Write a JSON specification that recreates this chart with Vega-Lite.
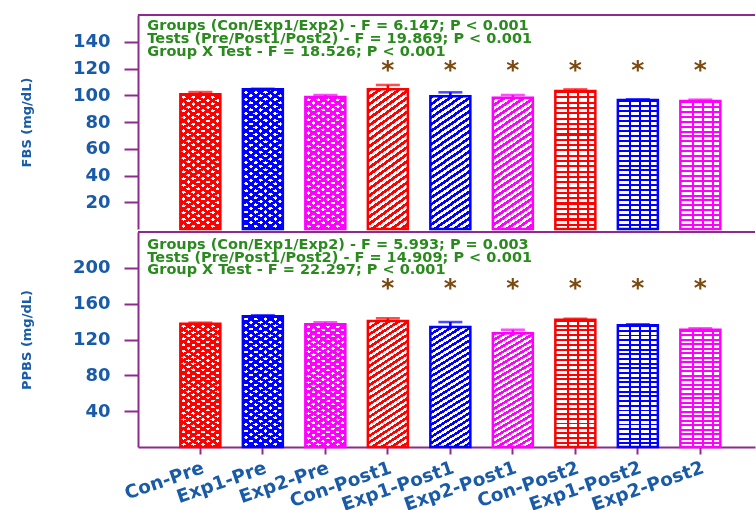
{
"$schema": "https://vega.github.io/schema/vega-lite/v6.json",
"background": "white",
"padding": {"left": 19, "top": 14, "right": 0, "bottom": 0},
"config": {
"view": {"stroke": null},
"font": "DejaVu Sans",
"axis": {"grid":false,"domainColor":"#8E2A8E","domainWidth":2,"tickColor":"#8E2A8E","tickWidth":2,"labelFont":"DejaVu Sans","labelFontWeight":"bold","labelColor":"#1A5BA8","labelOverlap":false,"titleFont":"DejaVu Sans","titleFontWeight":"bold","titleColor":"#1A5BA8"},
"axisY": {"tickSize":14,"labelFontSize":18,"labelPadding":14,"titleFontSize":13,"titleX":-112,"titleBaseline":"middle"},
"axisX": {"tickSize":7,"labelAngle":-19,"labelAlign":"right","labelBaseline":"top","labelFontSize":18.5,"labelPadding":4,"labelBound":false}
},
"spacing": 0,
"datasets": {
"fbs": [
{"label":"Con-Pre","group":"Con","test":"Pre","mean":100.7,"sem":1.7,"sig":false},
{"label":"Exp1-Pre","group":"Exp1","test":"Pre","mean":104.4,"sem":0.5,"sig":false},
{"label":"Exp2-Pre","group":"Exp2","test":"Pre","mean":98.7,"sem":1.5,"sig":false},
{"label":"Con-Post1","group":"Con","test":"Post1","mean":104.4,"sem":3.3,"sig":true},
{"label":"Exp1-Post1","group":"Exp1","test":"Post1","mean":99.2,"sem":3.0,"sig":true},
{"label":"Exp2-Post1","group":"Exp2","test":"Post1","mean":98.2,"sem":2.0,"sig":true},
{"label":"Con-Post2","group":"Con","test":"Post2","mean":103.2,"sem":1.2,"sig":true},
{"label":"Exp1-Post2","group":"Exp1","test":"Post2","mean":96.4,"sem":0.6,"sig":true},
{"label":"Exp2-Post2","group":"Exp2","test":"Post2","mean":95.7,"sem":1.0,"sig":true}
],
"ppbs": [
{"label":"Con-Pre","group":"Con","test":"Pre","mean":137.6,"sem":1.2,"sig":false},
{"label":"Exp1-Pre","group":"Exp1","test":"Pre","mean":145.9,"sem":1.1,"sig":false},
{"label":"Exp2-Pre","group":"Exp2","test":"Pre","mean":137.0,"sem":2.2,"sig":false},
{"label":"Con-Post1","group":"Con","test":"Post1","mean":140.7,"sem":3.0,"sig":true},
{"label":"Exp1-Post1","group":"Exp1","test":"Post1","mean":134.0,"sem":5.5,"sig":true},
{"label":"Exp2-Post1","group":"Exp2","test":"Post1","mean":126.9,"sem":4.0,"sig":true},
{"label":"Con-Post2","group":"Con","test":"Post2","mean":142.1,"sem":1.1,"sig":true},
{"label":"Exp1-Post2","group":"Exp1","test":"Post2","mean":135.9,"sem":1.1,"sig":true},
{"label":"Exp2-Post2","group":"Exp2","test":"Post2","mean":130.9,"sem":1.6,"sig":true}
]
},
"vconcat": [
{
"width": 617, "height": 214,
"layer": [
{
"data": {"name": "fbs"},
"encoding": {
"x": {"field":"label","type":"nominal","scale":{"domain":["Con-Pre","Exp1-Pre","Exp2-Pre","Con-Post1","Exp1-Post1","Exp2-Post1","Con-Post2","Exp1-Post2","Exp2-Post2"],"paddingInner":0.36,"paddingOuter":0.616,"align":0.55},"axis":null},
"y": {"field":"mean","type":"quantitative","scale":{"domain":[0,160],"nice":false},"axis":{"orient":"left","values":[20,40,60,80,100,120,140],"title":"FBS (mg/dL)"}}
},
"layer": [
{"mark":{"type":"errorbar","ticks":true,"size":24,"thickness":2.5},"encoding":{"yError":{"field":"sem"},"color":{"field":"group","type":"nominal","scale":{"domain":["Con","Exp1","Exp2"],"range":["#FF0000","#0000FF","#FF00FF"]},"legend":null}}},
{"transform":[{"filter":"datum.test !== 'Post2'"}],"mark":{"type":"bar","fill":{"gradient":"linear","x1":0,"y1":0,"x2":0.24,"y2":1.16,"stops":[{"offset":0,"color":"#000"},{"offset":0.0208,"color":"#000"},{"offset":0.0208,"color":"#fff"},{"offset":0.0417,"color":"#fff"},{"offset":0.0417,"color":"#000"},{"offset":0.0625,"color":"#000"},{"offset":0.0625,"color":"#fff"},{"offset":0.0833,"color":"#fff"},{"offset":0.0833,"color":"#000"},{"offset":0.1042,"color":"#000"},{"offset":0.1042,"color":"#fff"},{"offset":0.125,"color":"#fff"},{"offset":0.125,"color":"#000"},{"offset":0.1458,"color":"#000"},{"offset":0.1458,"color":"#fff"},{"offset":0.1667,"color":"#fff"},{"offset":0.1667,"color":"#000"},{"offset":0.1875,"color":"#000"},{"offset":0.1875,"color":"#fff"},{"offset":0.2083,"color":"#fff"},{"offset":0.2083,"color":"#000"},{"offset":0.2292,"color":"#000"},{"offset":0.2292,"color":"#fff"},{"offset":0.25,"color":"#fff"},{"offset":0.25,"color":"#000"},{"offset":0.2708,"color":"#000"},{"offset":0.2708,"color":"#fff"},{"offset":0.2917,"color":"#fff"},{"offset":0.2917,"color":"#000"},{"offset":0.3125,"color":"#000"},{"offset":0.3125,"color":"#fff"},{"offset":0.3333,"color":"#fff"},{"offset":0.3333,"color":"#000"},{"offset":0.3542,"color":"#000"},{"offset":0.3542,"color":"#fff"},{"offset":0.375,"color":"#fff"},{"offset":0.375,"color":"#000"},{"offset":0.3958,"color":"#000"},{"offset":0.3958,"color":"#fff"},{"offset":0.4167,"color":"#fff"},{"offset":0.4167,"color":"#000"},{"offset":0.4375,"color":"#000"},{"offset":0.4375,"color":"#fff"},{"offset":0.4583,"color":"#fff"},{"offset":0.4583,"color":"#000"},{"offset":0.4792,"color":"#000"},{"offset":0.4792,"color":"#fff"},{"offset":0.5,"color":"#fff"},{"offset":0.5,"color":"#000"},{"offset":0.5208,"color":"#000"},{"offset":0.5208,"color":"#fff"},{"offset":0.5417,"color":"#fff"},{"offset":0.5417,"color":"#000"},{"offset":0.5625,"color":"#000"},{"offset":0.5625,"color":"#fff"},{"offset":0.5833,"color":"#fff"},{"offset":0.5833,"color":"#000"},{"offset":0.6042,"color":"#000"},{"offset":0.6042,"color":"#fff"},{"offset":0.625,"color":"#fff"},{"offset":0.625,"color":"#000"},{"offset":0.6458,"color":"#000"},{"offset":0.6458,"color":"#fff"},{"offset":0.6667,"color":"#fff"},{"offset":0.6667,"color":"#000"},{"offset":0.6875,"color":"#000"},{"offset":0.6875,"color":"#fff"},{"offset":0.7083,"color":"#fff"},{"offset":0.7083,"color":"#000"},{"offset":0.7292,"color":"#000"},{"offset":0.7292,"color":"#fff"},{"offset":0.75,"color":"#fff"},{"offset":0.75,"color":"#000"},{"offset":0.7708,"color":"#000"},{"offset":0.7708,"color":"#fff"},{"offset":0.7917,"color":"#fff"},{"offset":0.7917,"color":"#000"},{"offset":0.8125,"color":"#000"},{"offset":0.8125,"color":"#fff"},{"offset":0.8333,"color":"#fff"},{"offset":0.8333,"color":"#000"},{"offset":0.8542,"color":"#000"},{"offset":0.8542,"color":"#fff"},{"offset":0.875,"color":"#fff"},{"offset":0.875,"color":"#000"},{"offset":0.8958,"color":"#000"},{"offset":0.8958,"color":"#fff"},{"offset":0.9167,"color":"#fff"},{"offset":0.9167,"color":"#000"},{"offset":0.9375,"color":"#000"},{"offset":0.9375,"color":"#fff"},{"offset":0.9583,"color":"#fff"},{"offset":0.9583,"color":"#000"},{"offset":0.9792,"color":"#000"},{"offset":0.9792,"color":"#fff"},{"offset":1,"color":"#fff"}]}},"encoding":{}},
{"transform":[{"filter":"datum.test === 'Pre'"}],"mark":{"type":"bar","blend":"multiply","fill":{"gradient":"linear","x1":0,"y1":1,"x2":0.24,"y2":-0.16,"stops":[{"offset":0,"color":"#000"},{"offset":0.0208,"color":"#000"},{"offset":0.0208,"color":"#fff"},{"offset":0.0417,"color":"#fff"},{"offset":0.0417,"color":"#000"},{"offset":0.0625,"color":"#000"},{"offset":0.0625,"color":"#fff"},{"offset":0.0833,"color":"#fff"},{"offset":0.0833,"color":"#000"},{"offset":0.1042,"color":"#000"},{"offset":0.1042,"color":"#fff"},{"offset":0.125,"color":"#fff"},{"offset":0.125,"color":"#000"},{"offset":0.1458,"color":"#000"},{"offset":0.1458,"color":"#fff"},{"offset":0.1667,"color":"#fff"},{"offset":0.1667,"color":"#000"},{"offset":0.1875,"color":"#000"},{"offset":0.1875,"color":"#fff"},{"offset":0.2083,"color":"#fff"},{"offset":0.2083,"color":"#000"},{"offset":0.2292,"color":"#000"},{"offset":0.2292,"color":"#fff"},{"offset":0.25,"color":"#fff"},{"offset":0.25,"color":"#000"},{"offset":0.2708,"color":"#000"},{"offset":0.2708,"color":"#fff"},{"offset":0.2917,"color":"#fff"},{"offset":0.2917,"color":"#000"},{"offset":0.3125,"color":"#000"},{"offset":0.3125,"color":"#fff"},{"offset":0.3333,"color":"#fff"},{"offset":0.3333,"color":"#000"},{"offset":0.3542,"color":"#000"},{"offset":0.3542,"color":"#fff"},{"offset":0.375,"color":"#fff"},{"offset":0.375,"color":"#000"},{"offset":0.3958,"color":"#000"},{"offset":0.3958,"color":"#fff"},{"offset":0.4167,"color":"#fff"},{"offset":0.4167,"color":"#000"},{"offset":0.4375,"color":"#000"},{"offset":0.4375,"color":"#fff"},{"offset":0.4583,"color":"#fff"},{"offset":0.4583,"color":"#000"},{"offset":0.4792,"color":"#000"},{"offset":0.4792,"color":"#fff"},{"offset":0.5,"color":"#fff"},{"offset":0.5,"color":"#000"},{"offset":0.5208,"color":"#000"},{"offset":0.5208,"color":"#fff"},{"offset":0.5417,"color":"#fff"},{"offset":0.5417,"color":"#000"},{"offset":0.5625,"color":"#000"},{"offset":0.5625,"color":"#fff"},{"offset":0.5833,"color":"#fff"},{"offset":0.5833,"color":"#000"},{"offset":0.6042,"color":"#000"},{"offset":0.6042,"color":"#fff"},{"offset":0.625,"color":"#fff"},{"offset":0.625,"color":"#000"},{"offset":0.6458,"color":"#000"},{"offset":0.6458,"color":"#fff"},{"offset":0.6667,"color":"#fff"},{"offset":0.6667,"color":"#000"},{"offset":0.6875,"color":"#000"},{"offset":0.6875,"color":"#fff"},{"offset":0.7083,"color":"#fff"},{"offset":0.7083,"color":"#000"},{"offset":0.7292,"color":"#000"},{"offset":0.7292,"color":"#fff"},{"offset":0.75,"color":"#fff"},{"offset":0.75,"color":"#000"},{"offset":0.7708,"color":"#000"},{"offset":0.7708,"color":"#fff"},{"offset":0.7917,"color":"#fff"},{"offset":0.7917,"color":"#000"},{"offset":0.8125,"color":"#000"},{"offset":0.8125,"color":"#fff"},{"offset":0.8333,"color":"#fff"},{"offset":0.8333,"color":"#000"},{"offset":0.8542,"color":"#000"},{"offset":0.8542,"color":"#fff"},{"offset":0.875,"color":"#fff"},{"offset":0.875,"color":"#000"},{"offset":0.8958,"color":"#000"},{"offset":0.8958,"color":"#fff"},{"offset":0.9167,"color":"#fff"},{"offset":0.9167,"color":"#000"},{"offset":0.9375,"color":"#000"},{"offset":0.9375,"color":"#fff"},{"offset":0.9583,"color":"#fff"},{"offset":0.9583,"color":"#000"},{"offset":0.9792,"color":"#000"},{"offset":0.9792,"color":"#fff"},{"offset":1,"color":"#fff"}]}},"encoding":{}},
{"transform":[{"filter":"datum.test === 'Post2'"}],"mark":{"type":"bar","fill":{"gradient":"linear","x1":0,"y1":0,"x2":1,"y2":0,"stops":[{"offset":0,"color":"#fff"},{"offset":0.28,"color":"#fff"},{"offset":0.28,"color":"#000"},{"offset":0.34,"color":"#000"},{"offset":0.34,"color":"#fff"},{"offset":0.53,"color":"#fff"},{"offset":0.53,"color":"#000"},{"offset":0.59,"color":"#000"},{"offset":0.59,"color":"#fff"},{"offset":0.78,"color":"#fff"},{"offset":0.78,"color":"#000"},{"offset":0.84,"color":"#000"},{"offset":0.84,"color":"#fff"},{"offset":1,"color":"#fff"}]}},"encoding":{}},
{"transform":[{"filter":"datum.test === 'Post2'"}],"mark":{"type":"bar","blend":"multiply","fill":{"gradient":"linear","x1":0,"y1":0,"x2":0,"y2":1,"stops":[{"offset":0,"color":"#000"},{"offset":0.0154,"color":"#000"},{"offset":0.0154,"color":"#fff"},{"offset":0.0385,"color":"#fff"},{"offset":0.0385,"color":"#000"},{"offset":0.0538,"color":"#000"},{"offset":0.0538,"color":"#fff"},{"offset":0.0769,"color":"#fff"},{"offset":0.0769,"color":"#000"},{"offset":0.0923,"color":"#000"},{"offset":0.0923,"color":"#fff"},{"offset":0.1154,"color":"#fff"},{"offset":0.1154,"color":"#000"},{"offset":0.1308,"color":"#000"},{"offset":0.1308,"color":"#fff"},{"offset":0.1538,"color":"#fff"},{"offset":0.1538,"color":"#000"},{"offset":0.1692,"color":"#000"},{"offset":0.1692,"color":"#fff"},{"offset":0.1923,"color":"#fff"},{"offset":0.1923,"color":"#000"},{"offset":0.2077,"color":"#000"},{"offset":0.2077,"color":"#fff"},{"offset":0.2308,"color":"#fff"},{"offset":0.2308,"color":"#000"},{"offset":0.2462,"color":"#000"},{"offset":0.2462,"color":"#fff"},{"offset":0.2692,"color":"#fff"},{"offset":0.2692,"color":"#000"},{"offset":0.2846,"color":"#000"},{"offset":0.2846,"color":"#fff"},{"offset":0.3077,"color":"#fff"},{"offset":0.3077,"color":"#000"},{"offset":0.3231,"color":"#000"},{"offset":0.3231,"color":"#fff"},{"offset":0.3462,"color":"#fff"},{"offset":0.3462,"color":"#000"},{"offset":0.3615,"color":"#000"},{"offset":0.3615,"color":"#fff"},{"offset":0.3846,"color":"#fff"},{"offset":0.3846,"color":"#000"},{"offset":0.4,"color":"#000"},{"offset":0.4,"color":"#fff"},{"offset":0.4231,"color":"#fff"},{"offset":0.4231,"color":"#000"},{"offset":0.4385,"color":"#000"},{"offset":0.4385,"color":"#fff"},{"offset":0.4615,"color":"#fff"},{"offset":0.4615,"color":"#000"},{"offset":0.4769,"color":"#000"},{"offset":0.4769,"color":"#fff"},{"offset":0.5,"color":"#fff"},{"offset":0.5,"color":"#000"},{"offset":0.5154,"color":"#000"},{"offset":0.5154,"color":"#fff"},{"offset":0.5385,"color":"#fff"},{"offset":0.5385,"color":"#000"},{"offset":0.5538,"color":"#000"},{"offset":0.5538,"color":"#fff"},{"offset":0.5769,"color":"#fff"},{"offset":0.5769,"color":"#000"},{"offset":0.5923,"color":"#000"},{"offset":0.5923,"color":"#fff"},{"offset":0.6154,"color":"#fff"},{"offset":0.6154,"color":"#000"},{"offset":0.6308,"color":"#000"},{"offset":0.6308,"color":"#fff"},{"offset":0.6538,"color":"#fff"},{"offset":0.6538,"color":"#000"},{"offset":0.6692,"color":"#000"},{"offset":0.6692,"color":"#fff"},{"offset":0.6923,"color":"#fff"},{"offset":0.6923,"color":"#000"},{"offset":0.7077,"color":"#000"},{"offset":0.7077,"color":"#fff"},{"offset":0.7308,"color":"#fff"},{"offset":0.7308,"color":"#000"},{"offset":0.7462,"color":"#000"},{"offset":0.7462,"color":"#fff"},{"offset":0.7692,"color":"#fff"},{"offset":0.7692,"color":"#000"},{"offset":0.7846,"color":"#000"},{"offset":0.7846,"color":"#fff"},{"offset":0.8077,"color":"#fff"},{"offset":0.8077,"color":"#000"},{"offset":0.8231,"color":"#000"},{"offset":0.8231,"color":"#fff"},{"offset":0.8462,"color":"#fff"},{"offset":0.8462,"color":"#000"},{"offset":0.8615,"color":"#000"},{"offset":0.8615,"color":"#fff"},{"offset":0.8846,"color":"#fff"},{"offset":0.8846,"color":"#000"},{"offset":0.9,"color":"#000"},{"offset":0.9,"color":"#fff"},{"offset":0.9231,"color":"#fff"},{"offset":0.9231,"color":"#000"},{"offset":0.9385,"color":"#000"},{"offset":0.9385,"color":"#fff"},{"offset":0.9615,"color":"#fff"},{"offset":0.9615,"color":"#000"},{"offset":0.9769,"color":"#000"},{"offset":0.9769,"color":"#fff"},{"offset":1,"color":"#fff"}]}},"encoding":{}},
{"mark":{"type":"bar","blend":"screen"},"encoding":{"fill":{"field":"group","type":"nominal","scale":{"domain":["Con","Exp1","Exp2"],"range":["#FF0000","#0000FF","#FF00FF"]},"legend":null}}},
{"mark":{"type":"bar","filled":false,"strokeWidth":2.5},"encoding":{"color":{"field":"group","type":"nominal","scale":{"domain":["Con","Exp1","Exp2"],"range":["#FF0000","#0000FF","#FF00FF"]},"legend":null}}},
{"transform":[{"filter":"datum.sig"}],"mark":{"type":"text","text":"*","font":"DejaVu Sans","fontWeight":"bold","fontSize":25,"color":"#7A4A10","baseline":"alphabetic","dy":14},"encoding":{"y":{"datum":123.4,"axis":{"orient":"left","values":[20,40,60,80,100,120,140],"title":"FBS (mg/dL)"}}}}
]
},
{"data":{"values":[{}]},"mark":{"type":"text","align":"left","baseline":"alphabetic","font":"DejaVu Sans","fontWeight":"bold","fontSize":14.5,"lineHeight":12.6,"color":"#2A8A1E","dx":-53},"encoding":{"x":{"datum":"Con-Pre","axis":null},"y":{"datum":148.5,"axis":{"orient":"left","values":[20,40,60,80,100,120,140],"title":"FBS (mg/dL)"}},"text":{"value":["Groups (Con/Exp1/Exp2) - F = 6.147; P < 0.001","Tests (Pre/Post1/Post2) - F = 19.869; P < 0.001","Group X Test - F = 18.526; P < 0.001"]}}},
{"data":{"values":[{}]},"mark":{"type":"rule","color":"#8E2A8E","strokeWidth":2},"encoding":{"y":{"datum":160,"axis":{"orient":"left","values":[20,40,60,80,100,120,140],"title":"FBS (mg/dL)"}}}}
]
},
{
"width": 617, "height": 215,
"layer": [
{
"data": {"name": "ppbs"},
"encoding": {
"x": {"field":"label","type":"nominal","scale":{"domain":["Con-Pre","Exp1-Pre","Exp2-Pre","Con-Post1","Exp1-Post1","Exp2-Post1","Con-Post2","Exp1-Post2","Exp2-Post2"],"paddingInner":0.36,"paddingOuter":0.616,"align":0.55},"axis":{"orient":"bottom","title":null}},
"y": {"field":"mean","type":"quantitative","scale":{"domain":[0,240],"nice":false},"axis":{"orient":"left","values":[40,80,120,160,200],"title":"PPBS (mg/dL)"}}
},
"layer": [
{"mark":{"type":"errorbar","ticks":true,"size":24,"thickness":2.5},"encoding":{"yError":{"field":"sem"},"color":{"field":"group","type":"nominal","scale":{"domain":["Con","Exp1","Exp2"],"range":["#FF0000","#0000FF","#FF00FF"]},"legend":null}}},
{"transform":[{"filter":"datum.test !== 'Post2'"}],"mark":{"type":"bar","fill":{"gradient":"linear","x1":0,"y1":0,"x2":0.24,"y2":1.16,"stops":[{"offset":0,"color":"#000"},{"offset":0.0208,"color":"#000"},{"offset":0.0208,"color":"#fff"},{"offset":0.0417,"color":"#fff"},{"offset":0.0417,"color":"#000"},{"offset":0.0625,"color":"#000"},{"offset":0.0625,"color":"#fff"},{"offset":0.0833,"color":"#fff"},{"offset":0.0833,"color":"#000"},{"offset":0.1042,"color":"#000"},{"offset":0.1042,"color":"#fff"},{"offset":0.125,"color":"#fff"},{"offset":0.125,"color":"#000"},{"offset":0.1458,"color":"#000"},{"offset":0.1458,"color":"#fff"},{"offset":0.1667,"color":"#fff"},{"offset":0.1667,"color":"#000"},{"offset":0.1875,"color":"#000"},{"offset":0.1875,"color":"#fff"},{"offset":0.2083,"color":"#fff"},{"offset":0.2083,"color":"#000"},{"offset":0.2292,"color":"#000"},{"offset":0.2292,"color":"#fff"},{"offset":0.25,"color":"#fff"},{"offset":0.25,"color":"#000"},{"offset":0.2708,"color":"#000"},{"offset":0.2708,"color":"#fff"},{"offset":0.2917,"color":"#fff"},{"offset":0.2917,"color":"#000"},{"offset":0.3125,"color":"#000"},{"offset":0.3125,"color":"#fff"},{"offset":0.3333,"color":"#fff"},{"offset":0.3333,"color":"#000"},{"offset":0.3542,"color":"#000"},{"offset":0.3542,"color":"#fff"},{"offset":0.375,"color":"#fff"},{"offset":0.375,"color":"#000"},{"offset":0.3958,"color":"#000"},{"offset":0.3958,"color":"#fff"},{"offset":0.4167,"color":"#fff"},{"offset":0.4167,"color":"#000"},{"offset":0.4375,"color":"#000"},{"offset":0.4375,"color":"#fff"},{"offset":0.4583,"color":"#fff"},{"offset":0.4583,"color":"#000"},{"offset":0.4792,"color":"#000"},{"offset":0.4792,"color":"#fff"},{"offset":0.5,"color":"#fff"},{"offset":0.5,"color":"#000"},{"offset":0.5208,"color":"#000"},{"offset":0.5208,"color":"#fff"},{"offset":0.5417,"color":"#fff"},{"offset":0.5417,"color":"#000"},{"offset":0.5625,"color":"#000"},{"offset":0.5625,"color":"#fff"},{"offset":0.5833,"color":"#fff"},{"offset":0.5833,"color":"#000"},{"offset":0.6042,"color":"#000"},{"offset":0.6042,"color":"#fff"},{"offset":0.625,"color":"#fff"},{"offset":0.625,"color":"#000"},{"offset":0.6458,"color":"#000"},{"offset":0.6458,"color":"#fff"},{"offset":0.6667,"color":"#fff"},{"offset":0.6667,"color":"#000"},{"offset":0.6875,"color":"#000"},{"offset":0.6875,"color":"#fff"},{"offset":0.7083,"color":"#fff"},{"offset":0.7083,"color":"#000"},{"offset":0.7292,"color":"#000"},{"offset":0.7292,"color":"#fff"},{"offset":0.75,"color":"#fff"},{"offset":0.75,"color":"#000"},{"offset":0.7708,"color":"#000"},{"offset":0.7708,"color":"#fff"},{"offset":0.7917,"color":"#fff"},{"offset":0.7917,"color":"#000"},{"offset":0.8125,"color":"#000"},{"offset":0.8125,"color":"#fff"},{"offset":0.8333,"color":"#fff"},{"offset":0.8333,"color":"#000"},{"offset":0.8542,"color":"#000"},{"offset":0.8542,"color":"#fff"},{"offset":0.875,"color":"#fff"},{"offset":0.875,"color":"#000"},{"offset":0.8958,"color":"#000"},{"offset":0.8958,"color":"#fff"},{"offset":0.9167,"color":"#fff"},{"offset":0.9167,"color":"#000"},{"offset":0.9375,"color":"#000"},{"offset":0.9375,"color":"#fff"},{"offset":0.9583,"color":"#fff"},{"offset":0.9583,"color":"#000"},{"offset":0.9792,"color":"#000"},{"offset":0.9792,"color":"#fff"},{"offset":1,"color":"#fff"}]}},"encoding":{}},
{"transform":[{"filter":"datum.test === 'Pre'"}],"mark":{"type":"bar","blend":"multiply","fill":{"gradient":"linear","x1":0,"y1":1,"x2":0.24,"y2":-0.16,"stops":[{"offset":0,"color":"#000"},{"offset":0.0208,"color":"#000"},{"offset":0.0208,"color":"#fff"},{"offset":0.0417,"color":"#fff"},{"offset":0.0417,"color":"#000"},{"offset":0.0625,"color":"#000"},{"offset":0.0625,"color":"#fff"},{"offset":0.0833,"color":"#fff"},{"offset":0.0833,"color":"#000"},{"offset":0.1042,"color":"#000"},{"offset":0.1042,"color":"#fff"},{"offset":0.125,"color":"#fff"},{"offset":0.125,"color":"#000"},{"offset":0.1458,"color":"#000"},{"offset":0.1458,"color":"#fff"},{"offset":0.1667,"color":"#fff"},{"offset":0.1667,"color":"#000"},{"offset":0.1875,"color":"#000"},{"offset":0.1875,"color":"#fff"},{"offset":0.2083,"color":"#fff"},{"offset":0.2083,"color":"#000"},{"offset":0.2292,"color":"#000"},{"offset":0.2292,"color":"#fff"},{"offset":0.25,"color":"#fff"},{"offset":0.25,"color":"#000"},{"offset":0.2708,"color":"#000"},{"offset":0.2708,"color":"#fff"},{"offset":0.2917,"color":"#fff"},{"offset":0.2917,"color":"#000"},{"offset":0.3125,"color":"#000"},{"offset":0.3125,"color":"#fff"},{"offset":0.3333,"color":"#fff"},{"offset":0.3333,"color":"#000"},{"offset":0.3542,"color":"#000"},{"offset":0.3542,"color":"#fff"},{"offset":0.375,"color":"#fff"},{"offset":0.375,"color":"#000"},{"offset":0.3958,"color":"#000"},{"offset":0.3958,"color":"#fff"},{"offset":0.4167,"color":"#fff"},{"offset":0.4167,"color":"#000"},{"offset":0.4375,"color":"#000"},{"offset":0.4375,"color":"#fff"},{"offset":0.4583,"color":"#fff"},{"offset":0.4583,"color":"#000"},{"offset":0.4792,"color":"#000"},{"offset":0.4792,"color":"#fff"},{"offset":0.5,"color":"#fff"},{"offset":0.5,"color":"#000"},{"offset":0.5208,"color":"#000"},{"offset":0.5208,"color":"#fff"},{"offset":0.5417,"color":"#fff"},{"offset":0.5417,"color":"#000"},{"offset":0.5625,"color":"#000"},{"offset":0.5625,"color":"#fff"},{"offset":0.5833,"color":"#fff"},{"offset":0.5833,"color":"#000"},{"offset":0.6042,"color":"#000"},{"offset":0.6042,"color":"#fff"},{"offset":0.625,"color":"#fff"},{"offset":0.625,"color":"#000"},{"offset":0.6458,"color":"#000"},{"offset":0.6458,"color":"#fff"},{"offset":0.6667,"color":"#fff"},{"offset":0.6667,"color":"#000"},{"offset":0.6875,"color":"#000"},{"offset":0.6875,"color":"#fff"},{"offset":0.7083,"color":"#fff"},{"offset":0.7083,"color":"#000"},{"offset":0.7292,"color":"#000"},{"offset":0.7292,"color":"#fff"},{"offset":0.75,"color":"#fff"},{"offset":0.75,"color":"#000"},{"offset":0.7708,"color":"#000"},{"offset":0.7708,"color":"#fff"},{"offset":0.7917,"color":"#fff"},{"offset":0.7917,"color":"#000"},{"offset":0.8125,"color":"#000"},{"offset":0.8125,"color":"#fff"},{"offset":0.8333,"color":"#fff"},{"offset":0.8333,"color":"#000"},{"offset":0.8542,"color":"#000"},{"offset":0.8542,"color":"#fff"},{"offset":0.875,"color":"#fff"},{"offset":0.875,"color":"#000"},{"offset":0.8958,"color":"#000"},{"offset":0.8958,"color":"#fff"},{"offset":0.9167,"color":"#fff"},{"offset":0.9167,"color":"#000"},{"offset":0.9375,"color":"#000"},{"offset":0.9375,"color":"#fff"},{"offset":0.9583,"color":"#fff"},{"offset":0.9583,"color":"#000"},{"offset":0.9792,"color":"#000"},{"offset":0.9792,"color":"#fff"},{"offset":1,"color":"#fff"}]}},"encoding":{}},
{"transform":[{"filter":"datum.test === 'Post2'"}],"mark":{"type":"bar","fill":{"gradient":"linear","x1":0,"y1":0,"x2":1,"y2":0,"stops":[{"offset":0,"color":"#fff"},{"offset":0.28,"color":"#fff"},{"offset":0.28,"color":"#000"},{"offset":0.34,"color":"#000"},{"offset":0.34,"color":"#fff"},{"offset":0.53,"color":"#fff"},{"offset":0.53,"color":"#000"},{"offset":0.59,"color":"#000"},{"offset":0.59,"color":"#fff"},{"offset":0.78,"color":"#fff"},{"offset":0.78,"color":"#000"},{"offset":0.84,"color":"#000"},{"offset":0.84,"color":"#fff"},{"offset":1,"color":"#fff"}]}},"encoding":{}},
{"transform":[{"filter":"datum.test === 'Post2'"}],"mark":{"type":"bar","blend":"multiply","fill":{"gradient":"linear","x1":0,"y1":0,"x2":0,"y2":1,"stops":[{"offset":0,"color":"#000"},{"offset":0.0154,"color":"#000"},{"offset":0.0154,"color":"#fff"},{"offset":0.0385,"color":"#fff"},{"offset":0.0385,"color":"#000"},{"offset":0.0538,"color":"#000"},{"offset":0.0538,"color":"#fff"},{"offset":0.0769,"color":"#fff"},{"offset":0.0769,"color":"#000"},{"offset":0.0923,"color":"#000"},{"offset":0.0923,"color":"#fff"},{"offset":0.1154,"color":"#fff"},{"offset":0.1154,"color":"#000"},{"offset":0.1308,"color":"#000"},{"offset":0.1308,"color":"#fff"},{"offset":0.1538,"color":"#fff"},{"offset":0.1538,"color":"#000"},{"offset":0.1692,"color":"#000"},{"offset":0.1692,"color":"#fff"},{"offset":0.1923,"color":"#fff"},{"offset":0.1923,"color":"#000"},{"offset":0.2077,"color":"#000"},{"offset":0.2077,"color":"#fff"},{"offset":0.2308,"color":"#fff"},{"offset":0.2308,"color":"#000"},{"offset":0.2462,"color":"#000"},{"offset":0.2462,"color":"#fff"},{"offset":0.2692,"color":"#fff"},{"offset":0.2692,"color":"#000"},{"offset":0.2846,"color":"#000"},{"offset":0.2846,"color":"#fff"},{"offset":0.3077,"color":"#fff"},{"offset":0.3077,"color":"#000"},{"offset":0.3231,"color":"#000"},{"offset":0.3231,"color":"#fff"},{"offset":0.3462,"color":"#fff"},{"offset":0.3462,"color":"#000"},{"offset":0.3615,"color":"#000"},{"offset":0.3615,"color":"#fff"},{"offset":0.3846,"color":"#fff"},{"offset":0.3846,"color":"#000"},{"offset":0.4,"color":"#000"},{"offset":0.4,"color":"#fff"},{"offset":0.4231,"color":"#fff"},{"offset":0.4231,"color":"#000"},{"offset":0.4385,"color":"#000"},{"offset":0.4385,"color":"#fff"},{"offset":0.4615,"color":"#fff"},{"offset":0.4615,"color":"#000"},{"offset":0.4769,"color":"#000"},{"offset":0.4769,"color":"#fff"},{"offset":0.5,"color":"#fff"},{"offset":0.5,"color":"#000"},{"offset":0.5154,"color":"#000"},{"offset":0.5154,"color":"#fff"},{"offset":0.5385,"color":"#fff"},{"offset":0.5385,"color":"#000"},{"offset":0.5538,"color":"#000"},{"offset":0.5538,"color":"#fff"},{"offset":0.5769,"color":"#fff"},{"offset":0.5769,"color":"#000"},{"offset":0.5923,"color":"#000"},{"offset":0.5923,"color":"#fff"},{"offset":0.6154,"color":"#fff"},{"offset":0.6154,"color":"#000"},{"offset":0.6308,"color":"#000"},{"offset":0.6308,"color":"#fff"},{"offset":0.6538,"color":"#fff"},{"offset":0.6538,"color":"#000"},{"offset":0.6692,"color":"#000"},{"offset":0.6692,"color":"#fff"},{"offset":0.6923,"color":"#fff"},{"offset":0.6923,"color":"#000"},{"offset":0.7077,"color":"#000"},{"offset":0.7077,"color":"#fff"},{"offset":0.7308,"color":"#fff"},{"offset":0.7308,"color":"#000"},{"offset":0.7462,"color":"#000"},{"offset":0.7462,"color":"#fff"},{"offset":0.7692,"color":"#fff"},{"offset":0.7692,"color":"#000"},{"offset":0.7846,"color":"#000"},{"offset":0.7846,"color":"#fff"},{"offset":0.8077,"color":"#fff"},{"offset":0.8077,"color":"#000"},{"offset":0.8231,"color":"#000"},{"offset":0.8231,"color":"#fff"},{"offset":0.8462,"color":"#fff"},{"offset":0.8462,"color":"#000"},{"offset":0.8615,"color":"#000"},{"offset":0.8615,"color":"#fff"},{"offset":0.8846,"color":"#fff"},{"offset":0.8846,"color":"#000"},{"offset":0.9,"color":"#000"},{"offset":0.9,"color":"#fff"},{"offset":0.9231,"color":"#fff"},{"offset":0.9231,"color":"#000"},{"offset":0.9385,"color":"#000"},{"offset":0.9385,"color":"#fff"},{"offset":0.9615,"color":"#fff"},{"offset":0.9615,"color":"#000"},{"offset":0.9769,"color":"#000"},{"offset":0.9769,"color":"#fff"},{"offset":1,"color":"#fff"}]}},"encoding":{}},
{"mark":{"type":"bar","blend":"screen"},"encoding":{"fill":{"field":"group","type":"nominal","scale":{"domain":["Con","Exp1","Exp2"],"range":["#FF0000","#0000FF","#FF00FF"]},"legend":null}}},
{"mark":{"type":"bar","filled":false,"strokeWidth":2.5},"encoding":{"color":{"field":"group","type":"nominal","scale":{"domain":["Con","Exp1","Exp2"],"range":["#FF0000","#0000FF","#FF00FF"]},"legend":null}}},
{"transform":[{"filter":"datum.sig"}],"mark":{"type":"text","text":"*","font":"DejaVu Sans","fontWeight":"bold","fontSize":25,"color":"#7A4A10","baseline":"alphabetic","dy":14},"encoding":{"y":{"datum":183.9,"axis":{"orient":"left","values":[40,80,120,160,200],"title":"PPBS (mg/dL)"}}}}
]
},
{"data":{"values":[{}]},"mark":{"type":"text","align":"left","baseline":"alphabetic","font":"DejaVu Sans","fontWeight":"bold","fontSize":14.5,"lineHeight":12.6,"color":"#2A8A1E","dx":-53},"encoding":{"x":{"datum":"Con-Pre","axis":{"orient":"bottom","title":null}},"y":{"datum":221,"axis":{"orient":"left","values":[40,80,120,160,200],"title":"PPBS (mg/dL)"}},"text":{"value":["Groups (Con/Exp1/Exp2) - F = 5.993; P = 0.003","Tests (Pre/Post1/Post2) - F = 14.909; P < 0.001","Group X Test - F = 22.297; P < 0.001"]}}},
{"data":{"values":[{}]},"mark":{"type":"rule","color":"#8E2A8E","strokeWidth":2},"encoding":{"y":{"datum":240,"axis":{"orient":"left","values":[40,80,120,160,200],"title":"PPBS (mg/dL)"}}}}
]
}
]
}
